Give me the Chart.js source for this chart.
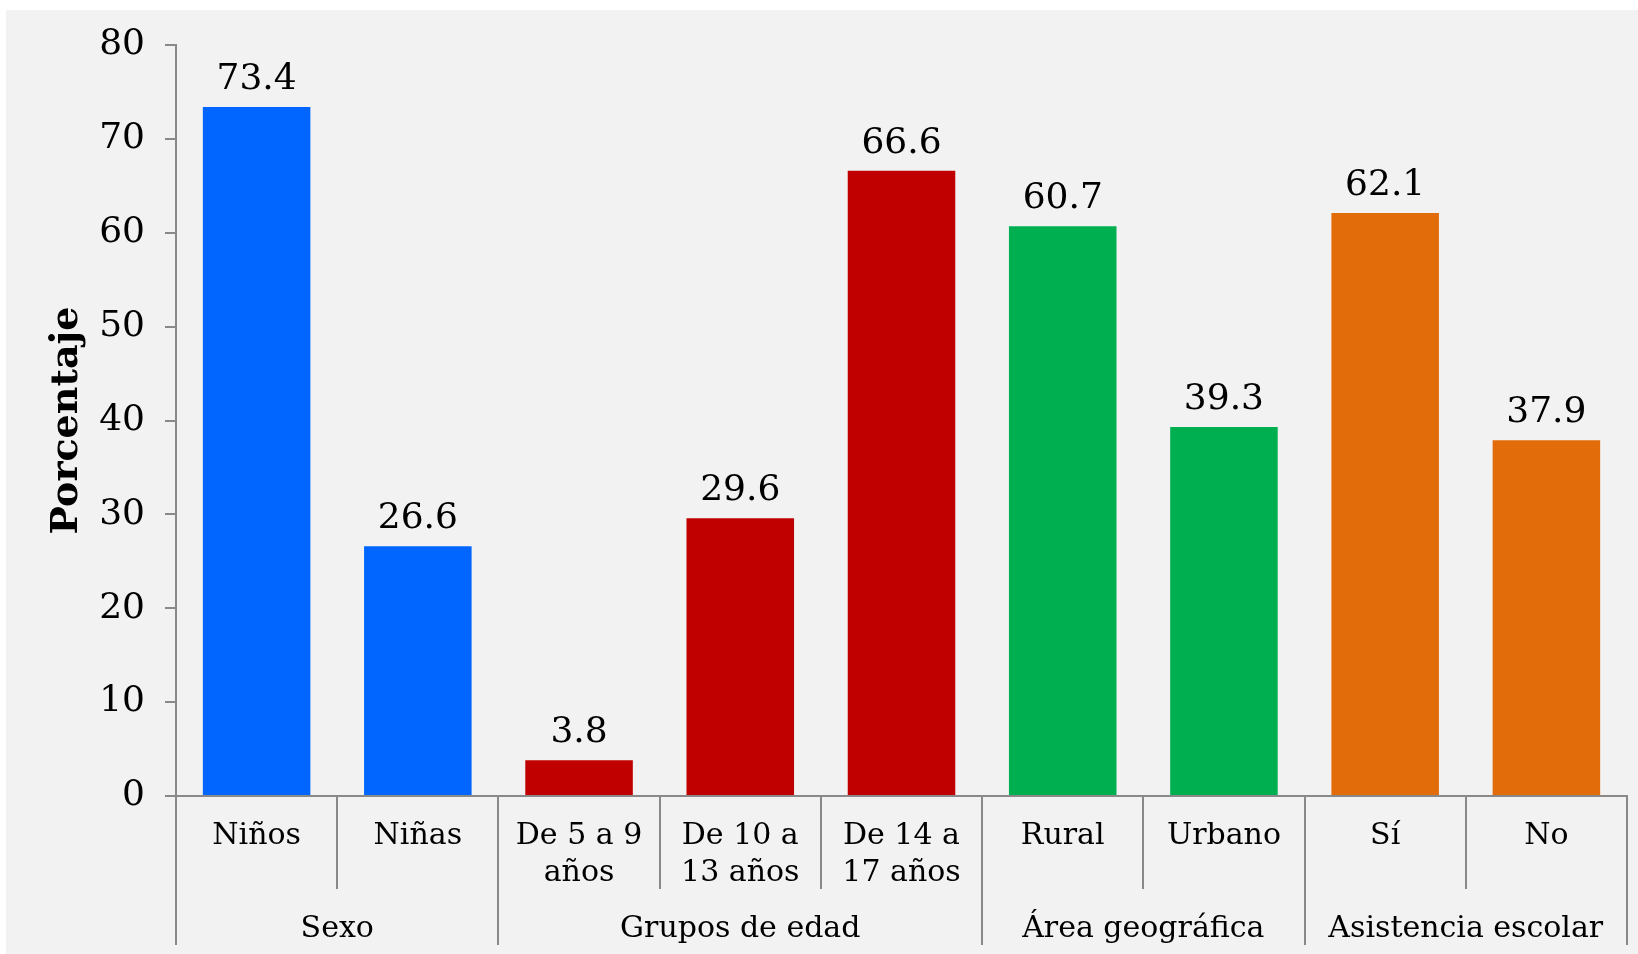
<!DOCTYPE html>
<html>
<head>
<meta charset="utf-8">
<script src="https://cdn.jsdelivr.net/npm/chart.js@4/dist/chart.umd.min.js"></script>
<style>
  html, body { margin: 0; padding: 0; background: #ffffff; }
  #wrap { width: 1638px; height: 954px; position: relative; }
</style>
</head>
<body>
<div id="wrap"><canvas id="c" width="1638" height="954"></canvas></div>
<script>
const categories = [['Niños'], ['Niñas'], ['De 5 a 9', 'años'], ['De 10 a', '13 años'], ['De 14 a', '17 años'], ['Rural'], ['Urbano'], ['Sí'], ['No']];
const values = [73.4, 26.6, 3.8, 29.6, 66.6, 60.7, 39.3, 62.1, 37.9];
const groups = ['Sexo', 'Grupos de edad', 'Área geográfica', 'Asistencia escolar'];
const groupSizes = [2, 3, 2, 2];
const groupColors = ['#0066FF', '#C00000', '#00B050', '#E36C0A'];
const yTicks = [0, 10, 20, 30, 40, 50, 60, 70, 80];
const yTitle = 'Porcentaje';

const barColors = [];
groupSizes.forEach((n, g) => { for (let k = 0; k < n; k++) barColors.push(groupColors[g]); });

const FONT = "'DejaVu Serif', 'Liberation Serif', serif";
const AXIS = '#898989';

const decor = {
  id: 'decor',
  beforeDraw(chart) {
    const ctx = chart.ctx;
    ctx.save();
    ctx.fillStyle = '#ffffff';
    ctx.fillRect(0, 0, chart.width, chart.height);
    ctx.fillStyle = '#f2f2f2';
    ctx.fillRect(6, 10, chart.width - 6, chart.height - 10);
    ctx.restore();
  },
  afterDraw(chart) {
    const ctx = chart.ctx;
    const x = chart.scales.x;
    const area = chart.chartArea;
    const base = area.bottom;
    ctx.save();
    // value labels
    const meta = chart.getDatasetMeta(0);
    ctx.fillStyle = '#000';
    ctx.font = '36px ' + FONT;
    ctx.textAlign = 'center';
    ctx.textBaseline = 'alphabetic';
    meta.data.forEach((bar, i) => {
      ctx.fillText(values[i].toFixed(1), bar.x, bar.y - 18);
    });
    // category labels
    ctx.font = '30px ' + FONT;
    categories.forEach((lines, i) => {
      const cx = x.getPixelForValue(i);
      lines.forEach((t, j) => ctx.fillText(t, cx, base + 48 + j * 37));
    });
    // separators
    ctx.strokeStyle = AXIS;
    ctx.lineWidth = 2;
    const groupEdges = new Set();
    let acc = 0;
    groupEdges.add(0);
    groupSizes.forEach(n => { acc += n; groupEdges.add(acc); });
    for (let i = 0; i <= categories.length; i++) {
      const px = Math.round(x.getPixelForValue(i - 0.5));
      const bottom = groupEdges.has(i) ? base + 149 : base + 93;
      ctx.beginPath();
      ctx.moveTo(px, base);
      ctx.lineTo(px, bottom);
      ctx.stroke();
    }
    // group labels
    acc = 0;
    groups.forEach((g, gi) => {
      const start = x.getPixelForValue(acc - 0.5);
      const end = x.getPixelForValue(acc + groupSizes[gi] - 0.5);
      acc += groupSizes[gi];
      ctx.fillText(g, (start + end) / 2, base + 141);
    });
    // y title
    ctx.font = 'bold 38px ' + FONT;
    ctx.translate(67, (area.top + area.bottom) / 2);
    ctx.rotate(-Math.PI / 2);
    ctx.textBaseline = 'middle';
    ctx.fillText(yTitle, 0, 0);
    ctx.restore();
  }
};

new Chart(document.getElementById('c'), {
  type: 'bar',
  data: {
    labels: categories.map(c => c.join(' ')),
    datasets: [{
      data: values,
      backgroundColor: barColors,
      borderWidth: 0,
      categoryPercentage: 1.0,
      barPercentage: 0.667
    }]
  },
  options: {
    responsive: false,
    animation: false,
    devicePixelRatio: 1,
    layout: { padding: { top: 45, right: 11, left: 0, bottom: 0 } },
    plugins: { legend: { display: false }, tooltip: { enabled: false }, title: { display: false } },
    scales: {
      x: {
        grid: { display: false },
        border: { display: true, color: AXIS, width: 2 },
        ticks: { display: false },
        afterFit(s) { s.height = 158; }
      },
      y: {
        min: 0, max: 80,
        afterBuildTicks(s) { s.ticks = yTicks.map(v => ({ value: v })); },
        grid: { display: true, drawOnChartArea: false, drawTicks: true, tickLength: 11, color: AXIS, lineWidth: 2 },
        border: { display: true, color: AXIS, width: 2 },
        ticks: { color: '#000', font: { family: FONT, size: 36 }, padding: 20 },
        afterFit(s) { s.width = 176; }
      }
    }
  },
  plugins: [decor]
});
</script>
</body>
</html>
